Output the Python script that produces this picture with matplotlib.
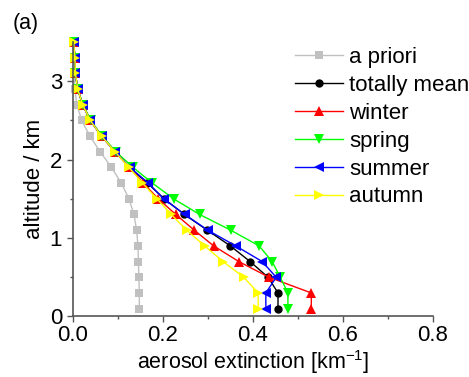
import matplotlib
matplotlib.use("Agg")
import matplotlib.pyplot as plt
from matplotlib.ticker import MultipleLocator

plt.rcParams['font.family'] = ['Liberation Sans', 'DejaVu Sans']

altitude = [0.1, 0.3, 0.5, 0.7, 0.9, 1.1, 1.3, 1.5, 1.7, 1.9, 2.1, 2.3, 2.5, 2.7, 2.9, 3.1, 3.3, 3.5]

a_priori = [0.148, 0.148, 0.147, 0.146, 0.145, 0.142, 0.136, 0.125, 0.108, 0.086, 0.061, 0.038, 0.020, 0.009, 0.005, 0.003, 0.002, 0.001]
totally_mean = [0.456, 0.456, 0.434, 0.394, 0.350, 0.299, 0.248, 0.203, 0.166, 0.126, 0.094, 0.064, 0.039, 0.022, 0.011, 0.006, 0.005, 0.002]
winter = [0.530, 0.530, 0.436, 0.369, 0.313, 0.270, 0.229, 0.190, 0.157, 0.126, 0.094, 0.064, 0.039, 0.022, 0.011, 0.006, 0.005, 0.002]
spring = [0.478, 0.478, 0.461, 0.443, 0.414, 0.351, 0.282, 0.224, 0.177, 0.134, 0.096, 0.065, 0.040, 0.023, 0.011, 0.006, 0.005, 0.002]
summer = [0.429, 0.429, 0.452, 0.421, 0.362, 0.300, 0.249, 0.202, 0.168, 0.127, 0.094, 0.064, 0.039, 0.022, 0.011, 0.006, 0.005, 0.002]
autumn = [0.412, 0.412, 0.380, 0.334, 0.293, 0.253, 0.219, 0.187, 0.155, 0.125, 0.094, 0.064, 0.039, 0.022, 0.011, 0.006, 0.005, 0.002]

labels = ['a priori', 'totally mean', 'winter', 'spring', 'summer', 'autumn']
series = [a_priori, totally_mean, winter, spring, summer, autumn]
colors = ['#c0c0c0', '#000000', '#ff0000', '#00ff00', '#0000ff', '#ffff00']
markers = ['s', 'o', '^', 'v', '<', '>']
msizes = [5.5, 6, 7.5, 7.5, 7.5, 7.5]

fig = plt.figure(figsize=(4.69, 3.77), dpi=100)
ax = fig.add_axes([0.155, 0.1605, 0.768, 0.7285])

for vals, lab, c, m, ms in zip(series, labels, colors, markers, msizes):
    ax.plot(vals, altitude, color=c, marker=m, markersize=ms, linewidth=1.0,
            markeredgewidth=0, label=lab, clip_on=False)

ax.set_xlim(0, 0.8)
ax.set_ylim(0, 3.5)
ax.xaxis.set_major_locator(MultipleLocator(0.2))
ax.xaxis.set_minor_locator(MultipleLocator(0.1))
ax.yaxis.set_major_locator(MultipleLocator(1))
ax.yaxis.set_minor_locator(MultipleLocator(0.5))
ax.set_xticklabels([f'{v:.1f}' for v in ax.get_xticks()])
ax.spines['top'].set_visible(False)
ax.spines['right'].set_visible(False)
for s in ['left', 'bottom']:
    ax.spines[s].set_color('#555555')
    ax.spines[s].set_linewidth(1.2)
ax.tick_params(which='major', direction='out', length=4.3, width=1, labelsize=16, colors='#555555', labelcolor='black')
ax.tick_params(axis='x', which='major', pad=2)
ax.tick_params(axis='y', which='major', pad=3.4)
ax.tick_params(which='minor', direction='out', length=2.5, width=1, colors='#555555')

ax.set_xlabel('aerosol extinction [km$^{\\mathregular{-1}}$]', fontsize=15.5, labelpad=1)
ax.set_ylabel('altitude / km', fontsize=16, labelpad=3)

fig.text(0.027, 0.965, '(a)', fontsize=15.5, va='top', ha='left')

leg = ax.legend(loc='upper left', bbox_to_anchor=(295/469, 1 - 47/377), bbox_transform=fig.transFigure,
                frameon=False, fontsize=16, numpoints=1, handlelength=2.15,
                handletextpad=0.3, labelspacing=0.31, borderaxespad=0, borderpad=0)

fig.savefig('out.png', dpi=100)
